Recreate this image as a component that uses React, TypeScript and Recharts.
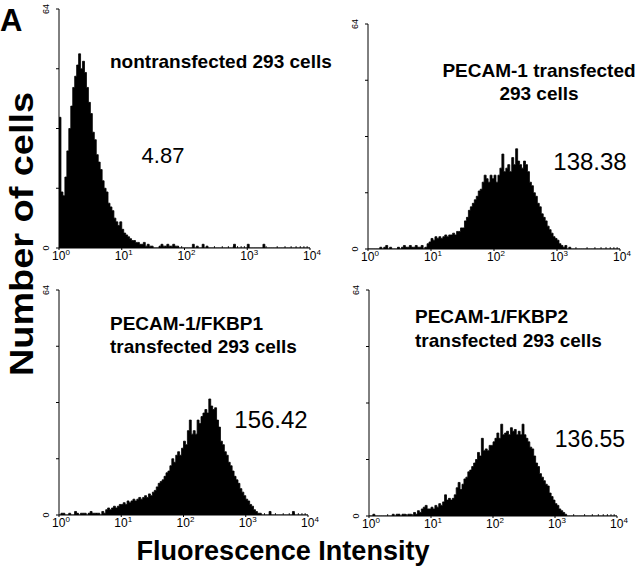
import React from 'react';
import { AreaChart, Area, XAxis, YAxis } from 'recharts';

// Histogram counts, 2 channels per bin, 128 bins over 256 log channels (10^0 .. 10^4)
const nontransfected = [
  35, 15, 14, 19, 26, 32, 38, 43, 46, 49,
  52, 48, 50, 47, 43, 39, 36, 31, 29, 25,
  23, 21, 18, 16, 15, 12, 11, 10, 8, 7,
  6, 7, 5, 4, 3.5, 3, 2.5, 2, 2, 1.5,
  1.5, 1, 1, 1.5, 0.5, 1, 0.5, 0.5, 0, 0,
  0, 0.5, 1, 0.5, 0.5, 1, 0.5, 0.5, 1, 0.5,
  0.5, 0, 0, 0, 0, 0, 0, 0, 1, 0,
  0.5, 0, 0, 1, 0, 0.5, 0, 0, 0, 0,
  0, 0, 0, 0, 0, 0, 0, 0, 0, 1,
  0, 0, 0, 0, 0, 0, 1, 0, 0, 0,
  0, 0, 0, 0, 1, 0, 0, 0, 0, 0,
  0, 0, 0, 0, 0, 0, 0, 0, 0, 0,
  0, 0, 0, 0, 0, 0, 0, 0,
];

const pecam1 = [
  0, 0, 0, 0, 0, 0, 0.5, 0, 0.5, 1,
  0, 0.5, 0, 0, 0, 0.5, 0, 0.5, 1, 0.5,
  0.5, 1, 0.5, 0.5, 1, 0.5, 0.5, 1, 0, 0.5,
  1.5, 2, 3, 2.5, 3.5, 3, 3.5, 3, 3.5, 4,
  3.5, 4, 4, 4.5, 4, 5, 5, 6, 6, 8,
  9, 11, 12, 13, 14, 15, 16.5, 17, 19, 21,
  20, 19, 21, 20, 21, 19, 21, 23, 27, 22,
  23, 24, 22, 26, 24, 28.5, 25, 24, 23, 25,
  24, 22, 19, 18, 16, 15, 13, 12, 10, 9,
  8, 6.5, 5.5, 4.5, 3.5, 3, 2.5, 1.5, 1, 0.5,
  1, 0, 0.5, 0, 0, 0, 0, 0, 0, 0,
  0, 0, 0, 0, 0, 0, 0, 0, 0, 0,
  0, 0, 0, 0, 0, 0, 0, 0,
];

const fkbp1 = [
  0, 0.5, 0.5, 0, 0, 0.5, 0, 0, 1, 0.5,
  0, 0.5, 0.5, 0.5, 0, 0.5, 1, 0.5, 0.5, 0.5,
  0.5, 0, 1, 0.5, 1.5, 2, 1.5, 2, 2.5, 2,
  2.5, 3, 3, 3.5, 3, 4, 3.5, 4, 4.5, 4,
  4.5, 5, 4.5, 5, 5.5, 5, 6, 5.5, 6.5, 7,
  8, 9, 9.5, 10, 11, 12, 12.5, 14, 16, 15,
  17, 18, 17, 19, 21, 20, 24, 27, 23, 24,
  23, 27, 26, 28, 29, 30, 29, 33, 31, 30,
  30.5, 27, 25, 21, 20, 18, 17, 15, 14, 12.5,
  11, 10, 9, 7.5, 6.5, 5.5, 4.5, 4, 3, 2.5,
  1.5, 1, 0.5, 0.5, 0, 0, 0, 0, 1, 0,
  0, 0, 0, 0, 0, 0, 0, 0, 0, 0,
  1, 0, 0, 0, 0, 0, 0, 0,
];

const fkbp2 = [
  0, 0, 0.5, 0, 0, 0, 0, 0, 0, 0,
  0, 0, 0.5, 0, 0.5, 0.5, 0, 0.5, 0.5, 0,
  0.5, 0.5, 0, 1, 0.5, 1.5, 1, 2, 2.5, 3,
  2, 2, 2.5, 2, 3, 2.5, 3.5, 3, 4, 6,
  4.5, 5, 4.5, 5, 6, 8, 9.5, 7.5, 9, 10.5,
  11, 12.5, 13, 14, 15, 16, 18, 17, 22, 18.5,
  19, 18.5, 20, 20, 21, 22, 23.5, 22, 26, 23,
  23.5, 24, 23, 25, 24, 24.5, 23, 24, 23, 26,
  23, 22, 21, 19.5, 19, 17, 15, 14, 12, 11,
  10, 9, 8.5, 6.5, 5.5, 4.5, 3.5, 3, 2, 1.5,
  1, 0.5, 0, 0, 0, 0, 0, 0, 0, 0,
  0, 0, 0, 0, 0, 0, 0, 0, 0, 0,
  0, 0, 0, 0, 0, 0, 0, 0,
];

const panelTitles = [
  ['nontransfected 293 cells'],
  ['PECAM-1 transfected', '293 cells'],
  ['PECAM-1/FKBP1', 'transfected 293 cells'],
  ['PECAM-1/FKBP2', 'transfected 293 cells'],
];
const panelValues = ['4.87', '138.38', '156.42', '136.55'];
const decadeExponents = [0, 1, 2, 3, 4];
const yTickValues = [0, 16, 32, 48, 64];
const yLabelValues = [0, 64];

const CH_PER_BIN = 2;
const CH_PER_DECADE = 64;
const MAX_CH = 256;

const FONT = "'Liberation Sans', Arial, Helvetica, sans-serif";

const majorTicks = decadeExponents.map((e) => e * CH_PER_DECADE);
const minorTicks: number[] = [];
for (let d = 0; d < 4; d++) {
  for (let k = 2; k <= 9; k++) minorTicks.push(CH_PER_DECADE * (d + Math.log10(k)));
}
const allXTicks = [...majorTicks, ...minorTicks].sort((a, b) => a - b);

function toData(counts: number[]) {
  const d = counts.map((n, i) => ({ ch: i * CH_PER_BIN, n }));
  d.push({ ch: MAX_CH, n: 0 });
  return d;
}

type PanelProps = { counts: number[]; left: number; top: number; right: number; bottom: number };

function Panel({ counts, left, top, right, bottom }: PanelProps) {
  const ML = 30, MT = 10, MR = 15, MB = 22;
  const plotW = right - left;
  const plotH = bottom - top;
  const W = plotW + ML + MR;
  const H = plotH + MT + MB;
  const axisY = MT + plotH;

  const renderXTick = (props: any) => {
    const { x, payload } = props;
    const v = payload.value as number;
    const isMajor = majorTicks.some((m) => Math.abs(m - v) < 1e-6);
    if (!isMajor) {
      return <line x1={x} x2={x} y1={axisY} y2={axisY - 2} stroke="#000" strokeWidth={0.8} />;
    }
    const e = Math.round(v / CH_PER_DECADE);
    return (
      <g>
        <line x1={x} x2={x} y1={axisY} y2={axisY + 2} stroke="#000" strokeWidth={1} />
        <text x={x + 2} y={axisY + 12} textAnchor="middle" fontSize={12} style={{ fontSize: 12, fontFamily: FONT }} fill="#000">
          10<tspan dy={-5} fontSize={8} style={{ fontSize: 8 }}>{e}</tspan>
        </text>
      </g>
    );
  };

  const renderYTick = (props: any) => {
    const { y, payload } = props;
    const v = payload.value as number;
    if (!yLabelValues.includes(v)) return <g />;
    const lx = ML - 10;
    return (
      <text x={lx} y={y} transform={`rotate(-90, ${lx}, ${y})`} textAnchor="middle" fontSize={9} style={{ fontSize: 9, fontFamily: FONT }} fill="#000">
        {v}
      </text>
    );
  };

  return (
    <div style={{ position: 'absolute', left: left - ML, top: top - MT }}>
      <AreaChart width={W} height={H} data={toData(counts)} margin={{ top: MT, right: MR, bottom: 0, left: 0 }}>
        <XAxis
          type="number"
          dataKey="ch"
          domain={[0, MAX_CH]}
          ticks={allXTicks}
          interval={0}
          tick={renderXTick}
          tickLine={false}
          axisLine={{ stroke: '#000', strokeWidth: 1 }}
          height={MB}
          allowDataOverflow
        />
        <YAxis
          type="number"
          domain={[0, 64]}
          ticks={yTickValues}
          interval={0}
          tick={renderYTick}
          tickLine={{ stroke: '#000' }}
          tickSize={3}
          axisLine={{ stroke: '#000', strokeWidth: 1 }}
          width={ML}
          allowDataOverflow
        />
        <Area
          dataKey="n"
          type="stepAfter"
          fill="#000"
          fillOpacity={1}
          stroke="#000"
          strokeWidth={0.8}
          dot={false}
          activeDot={false}
          isAnimationActive={false}
        />
      </AreaChart>
    </div>
  );
}

export default function App() {
  const bold = { fontFamily: FONT, fontWeight: 700, fill: '#000' } as const;
  const reg = { fontFamily: FONT, fontWeight: 400, fill: '#000' } as const;
  return (
    <div style={{ position: 'absolute', left: 0, top: 0, width: 640, height: 573, background: '#fff', overflow: 'hidden' }}>
      <Panel counts={nontransfected} left={59} top={9} right={310} bottom={248} />
      <Panel counts={pecam1} left={368} top={24} right={620} bottom={249} />
      <Panel counts={fkbp1} left={59} top={290} right={308} bottom={515} />
      <Panel counts={fkbp2} left={369} top={290} right={617} bottom={516} />
      <svg width={640} height={573} style={{ position: 'absolute', left: 0, top: 0, pointerEvents: 'none' }}>
        <text x={0} y={31} fontSize={31} {...bold}>A</text>
        <text
          x={33}
          y={234}
          transform="rotate(-90, 33, 234)"
          textAnchor="middle"
          fontSize={33}
          textLength={284}
          lengthAdjust="spacingAndGlyphs"
          {...bold}
        >
          Number of cells
        </text>
        <text x={283} y={560} textAnchor="middle" fontSize={27} textLength={293} lengthAdjust="spacingAndGlyphs" {...bold}>
          Fluorescence Intensity
        </text>

        <text x={110} y={68} fontSize={19} {...bold}>{panelTitles[0][0]}</text>
        <text x={539} y={77} textAnchor="middle" fontSize={19} {...bold}>{panelTitles[1][0]}</text>
        <text x={539} y={100} textAnchor="middle" fontSize={19} {...bold}>{panelTitles[1][1]}</text>
        <text x={110} y={330} fontSize={19} {...bold}>{panelTitles[2][0]}</text>
        <text x={110} y={353} fontSize={19} {...bold}>{panelTitles[2][1]}</text>
        <text x={415} y={323} fontSize={19} {...bold}>{panelTitles[3][0]}</text>
        <text x={415} y={347} fontSize={19} {...bold}>{panelTitles[3][1]}</text>

        <text x={163} y={163} textAnchor="middle" fontSize={22} {...reg}>{panelValues[0]}</text>
        <text x={590} y={170} textAnchor="middle" fontSize={24} {...reg}>{panelValues[1]}</text>
        <text x={271} y={428} textAnchor="middle" fontSize={24} {...reg}>{panelValues[2]}</text>
        <text x={590} y={447} textAnchor="middle" fontSize={23} {...reg}>{panelValues[3]}</text>
      </svg>
    </div>
  );
}
